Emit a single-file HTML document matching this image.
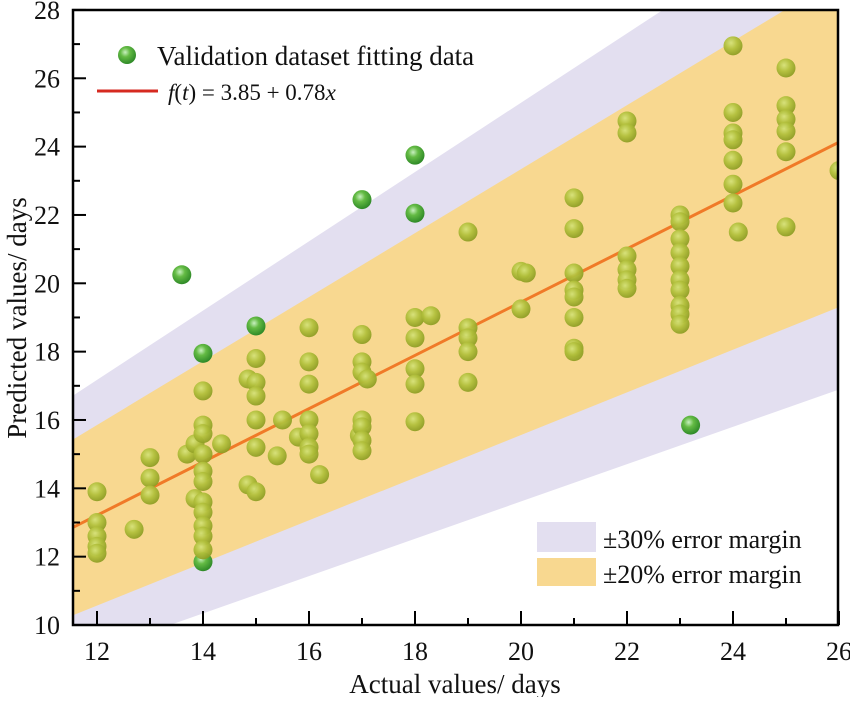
<!DOCTYPE html>
<html><head><meta charset="utf-8"><style>
body{margin:0;background:#fff}
svg text{font-family:"Liberation Serif",serif;fill:#111}
</style></head><body>
<svg width="850" height="697" xmlns="http://www.w3.org/2000/svg">
<defs>
<radialGradient id="gy" cx="0.4" cy="0.35" r="0.65"><stop offset="0" stop-color="#d6e27a"/><stop offset="0.5" stop-color="#b2c03c"/><stop offset="1" stop-color="#8f9e25"/></radialGradient>
<radialGradient id="gg" cx="0.4" cy="0.35" r="0.65"><stop offset="0" stop-color="#c8f0c0"/><stop offset="0.4" stop-color="#64bb44"/><stop offset="1" stop-color="#2f8a28"/></radialGradient>
<clipPath id="cp"><rect x="73" y="10" width="765" height="615"/></clipPath>
</defs>
<g id="bands" clip-path="url(#cp)"></g>
<g id="pts" clip-path="url(#cp)"></g>
<g id="axes"></g>
<g>
<circle cx="127" cy="55" r="9" fill="url(#gg)"/>
<text x="157" y="65" font-size="27">Validation dataset fitting data</text>
<line x1="97" y1="91" x2="158" y2="91" stroke="#d62a20" stroke-width="3"/>
<text x="168" y="100" font-size="23" font-style="italic">f<tspan font-style="normal">(</tspan>t<tspan font-style="normal">) = 3.85 + 0.78</tspan>x</text>
</g>
<g>
<rect x="537" y="522" width="59" height="30" fill="#e3dff0"/>
<text x="603" y="548" font-size="26">±30% error margin</text>
<rect x="537" y="558" width="59" height="28" fill="#f8d890"/>
<text x="603" y="583" font-size="26">±20% error margin</text>
</g>
<text x="455" y="693" font-size="27" text-anchor="middle">Actual values/ days</text>
<text transform="translate(26,318) rotate(-90)" font-size="27" text-anchor="middle">Predicted values/ days</text>
</svg>
<script>
const xTicks=[12,14,16,18,20,22,24,26];
const yTicks=[10,12,14,16,18,20,22,24,26,28];
const intercept=3.85, slope=0.78;
const ptsX=[12,12,12,12,12,12.7,13,13,13,13.7,13.85,13.85,14,14,14,14,14,14,14,14,14,14,14,14.35,14.85,14.85,15,15,15,15,15,15,15.4,15.5,15.8,16,16,16,16,16,16,16,16.2,16.95,17,17,17,17,17,17,17,17.1,18,18,18,18,18,18.3,19,19,19,19,19,20,20,20.1,21,21,21,21,21,21,21,21,22,22,22,22,22,22,23,23,23,23,23,23,23,23,23,23,24,24,24,24,24,24,24,24.1,25,25,25,25,25,25,26];
const ptsY=[13.9,13.0,12.6,12.3,12.1,12.8,14.9,14.3,13.8,15.0,15.3,13.7,16.85,15.85,15.6,15.0,14.5,14.2,13.6,13.3,12.9,12.6,12.2,15.3,17.2,14.1,17.8,17.1,16.7,16.0,15.2,13.9,14.95,16.0,15.5,18.7,17.7,17.05,16.0,15.6,15.2,15.0,14.4,15.55,18.5,17.7,17.4,16.0,15.8,15.4,15.1,17.2,19.0,18.4,17.5,17.05,15.95,19.05,21.5,18.7,18.4,18.0,17.1,20.35,19.25,20.3,22.5,21.6,20.3,19.8,19.6,19.0,18.1,18.0,24.75,24.4,20.8,20.4,20.1,19.85,22.0,21.8,21.3,20.9,20.5,20.1,19.8,19.35,19.1,18.8,26.95,25.0,24.4,24.2,23.6,22.9,22.35,21.5,26.3,25.2,24.8,24.45,23.85,21.65,23.3];
const outX=[13.6,14,14,15,17,18,18,23.2];
const outY=[20.25,17.95,11.85,18.75,22.45,23.75,22.05,15.85];
const NS="http://www.w3.org/2000/svg";
const X=v=>97+(v-12)*53, Y=v=>625-(v-10)*34.17;
const xmin=11.5,xmax=26.1;
function mk(t,a,p){const e=document.createElementNS(NS,t);for(const k in a)e.setAttribute(k,a[k]);p.appendChild(e);return e;}
const f=x=>intercept+slope*x;
const bands=document.getElementById('bands');
function band(k,col,name){const d=`M${X(xmin)},${Y(f(xmin)*(1+k))} L${X(xmax)},${Y(f(xmax)*(1+k))} L${X(xmax)},${Y(f(xmax)*(1-k))} L${X(xmin)},${Y(f(xmin)*(1-k))}Z`;
const p=mk('path',{d:d,fill:col},bands);

}
band(0.3,'#e3dff0','band-30-percent');band(0.2,'#f8d890','band-20-percent');
const pts=document.getElementById('pts');
const fl=mk('line',{x1:X(xmin),y1:Y(f(xmin)),x2:X(xmax),y2:Y(f(xmax)),stroke:'#f07a28','stroke-width':3},bands);


for(let i=0;i<outX.length;i++){const c=mk('circle',{cx:X(outX[i]),cy:Y(outY[i]),r:9.5,fill:'url(#gg)'},pts);

}
for(let i=0;i<ptsX.length;i++){const c=mk('circle',{cx:X(ptsX[i]),cy:Y(ptsY[i]),r:9.5,fill:'url(#gy)','fill-opacity':0.95},pts);

}
const ax=document.getElementById('axes');
const fr=mk('rect',{x:73,y:10,width:765,height:615,fill:'none',stroke:'#000','stroke-width':2.5},ax);


for(const t of xTicks){mk('line',{x1:X(t),y1:625,x2:X(t),y2:611,stroke:'#000','stroke-width':2},ax);
mk('line',{x1:X(t+1),y1:625,x2:X(t+1),y2:618,stroke:'#000','stroke-width':2},ax);
const tx=mk('text',{x:X(t),y:660,'font-size':26,'text-anchor':'middle'},ax);tx.textContent=t;

}
for(const t of yTicks){mk('line',{x1:73,y1:Y(t),x2:86,y2:Y(t),stroke:'#000','stroke-width':2},ax);
if(t<28)mk('line',{x1:73,y1:Y(t+1),x2:80,y2:Y(t+1),stroke:'#000','stroke-width':2},ax);
const tx=mk('text',{x:60,y:Y(t)+9,'font-size':26,'text-anchor':'end'},ax);tx.textContent=t;

}
</script>
</body></html>
